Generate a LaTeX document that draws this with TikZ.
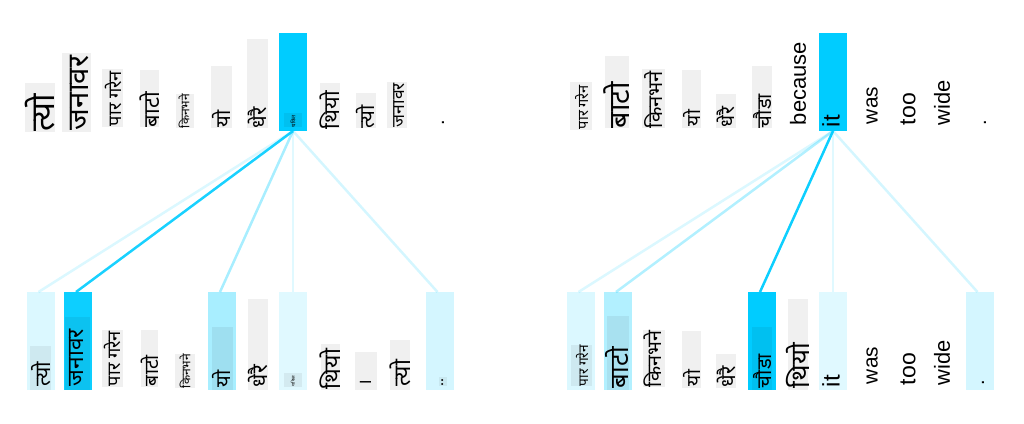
\documentclass[tikz,border=0pt]{standalone}
\usepackage{fontspec}
\setmainfont{Liberation Sans}
\newfontfamily\dev[Script=Devanagari]{Noto Sans}
\definecolor{attn}{HTML}{00CCFF}
\tikzset{
  word/.style={rotate=90, anchor=west, inner sep=0pt, outer sep=0pt, text=black},
  cell/.style={fill=attn, draw=none, inner sep=0pt, outer sep=0pt, minimum width=28pt, minimum height=98pt},
  bar/.style={fill=black, fill opacity=0.06, draw=none},
  link/.style={draw=attn, line width=2.5pt},
}
\newcommand{\rsz}[2]{\resizebox{#1pt}{!}{#2}}
\begin{document}
\begin{tikzpicture}[x=1pt,y=-1pt]
\useasboundingbox (0,0) rectangle (1024,423);

% ---------- attention cells ----------
\node[cell] (tLsel) at (293,82) {};
\node[cell, fill opacity=0.14] (bL1) at (40.5,341) {};
\node[cell, fill opacity=0.95] (bL2) at (78,341) {};
\node[cell, fill opacity=0.34] (bL6) at (222,341) {};
\node[cell, fill opacity=0.12] (bL8) at (293,341) {};
\node[cell, fill opacity=0.17] (bL12) at (439.5,341) {};

\node[cell] (tRsel) at (833,82) {};
\node[cell, fill opacity=0.14] (bR1) at (580.5,341) {};
\node[cell, fill opacity=0.30] (bR2) at (618,341) {};
\node[cell, fill opacity=1] (bR6) at (762,341) {};
\node[cell, fill opacity=0.12] (bR8) at (833,341) {};
\node[cell, fill opacity=0.17] (bR12) at (979.5,341) {};

% ---------- links ----------
\draw[link, draw opacity=0.14] (tLsel.south) -- ([xshift=-2pt]bL1.north);
\draw[link, draw opacity=0.34] (tLsel.south) -- ([xshift=-2pt]bL6.north);
\draw[link, draw opacity=0.12] (tLsel.south) -- (bL8.north);
\draw[link, draw opacity=0.17] (tLsel.south) -- ([xshift=-2pt]bL12.north);
\draw[link, draw opacity=0.90] (tLsel.south) -- ([xshift=-2pt]bL2.north);

\draw[link, draw opacity=0.14] (tRsel.south) -- ([xshift=-2pt]bR1.north);
\draw[link, draw opacity=0.30] (tRsel.south) -- ([xshift=-2pt]bR2.north);
\draw[link, draw opacity=0.12] (tRsel.south) -- (bR8.north);
\draw[link, draw opacity=0.17] (tRsel.south) -- ([xshift=-2pt]bR12.north);
\draw[link, draw opacity=0.95] (tRsel.south) -- ([xshift=-2pt]bR6.north);

% ---------- gray bars ----------
\foreach \a/\b/\c/\d in {
  25/83/55/132, 62/53/91/132, 102/69/123/127, 140/70/159/127, 176/94/194/128,
  211/66/232/128, 247/39/268/128, 284/113/302/127, 320/83/340/128, 356/93/376/128,
  387/82/407/128,
  30/346/51/390, 65/317/90/390, 102/330/123/387, 141/330/158/387, 175/354/195/388,
  212/327/233/390, 248/299/268/390, 284/373/302/387, 321/344/340/390, 355/352/377/390,
  390/340/410/390, 439/377/447/386,
  570/82/592/130, 605/56/629/128, 642/69/665/128, 682/70/701/128, 716/94/736/128,
  752/66/772/128,
  571/345/592/386, 607/316/629/390, 643/330/665/387, 682/331/701/388, 716/354/736/388,
  752/327/772/390, 788/299/808/390}
  \fill[bar] (\a,\b) rectangle (\c,\d);

% ---------- words, left panel ----------
\foreach \n/\x/\y/\l/\t in {
  tl1/40/131/37/त्यो, tl2/80/130/74/जनावर, tl3/113/126/55/पार गरेन, tl4/150/127/35/बाटो,
  tl5/184/128/34/किनभने, tl6/221/127/17/यो, tl7/257/128/21/धेरै, tl8/293/127/12/थकित,
  tl9/330/129/38/थियो, tl10/366/128/23/त्यो, tl11/399/127/44/जनावर,
  bl1/41/386/24/त्यो, bl2/77/386/57/जनावर, bl3/112/386/55/पार गरेन, bl4/150/386/31/बाटो,
  bl5/185/388/34/किनभने, bl6/221/387/17/यो, bl7/258/387/22/धेरै, bl8/293/386/10/थकित,
  bl9/330/389/40/थियो, bl11/400/386/26/त्यो, bl12/443/386/8/..}
  \node[word] (\n) at (\x,\y) {\rsz{\l}{\dev\t}};
\node[word, font=\dev\fontsize{18}{18}\selectfont] (bl10) at (366,386) {।};
\node[word, font=\fontsize{20}{20}\selectfont] (tl12) at (443,125) {.};

% ---------- words, right panel ----------
\foreach \n/\x/\y/\l/\t in {
  tr1/582/129/44/पार गरेन, tr2/617/128/46/बाटो, tr3/653/128/57/किनभने, tr4/692/126/16/यो,
  tr5/726/127/20/धेरै, tr6/762/128/34/चौडा,
  br1/582/386/41/पार गरेन, br2/617/388/41/बाटो, br3/653/387/56/किनभने, br4/692/386/16/यो,
  br5/726/387/21/धेरै, br6/762/388/34/चौडा, br7/798/388/45/थियो}
  \node[word] (\n) at (\x,\y) {\rsz{\l}{\dev\t}};
\foreach \n/\x/\y/\l/\t in {
  tr7/798/125/83/because, tr8/831/127/12/it, tr9/872/124/37/was, tr10/908/125/32/too,
  tr11/942/125/45/wide,
  br8/831/387/12/it, br9/872/384/37/was, br10/908/385/32/too, br11/942/385/45/wide}
  \node[word] (\n) at (\x,\y) {\rsz{\l}{\t}};
\node[word, font=\fontsize{20}{20}\selectfont] (tr12) at (985,125) {.};
\node[word, font=\fontsize{20}{20}\selectfont] (br12) at (983,385) {.};
\end{tikzpicture}
\end{document}
